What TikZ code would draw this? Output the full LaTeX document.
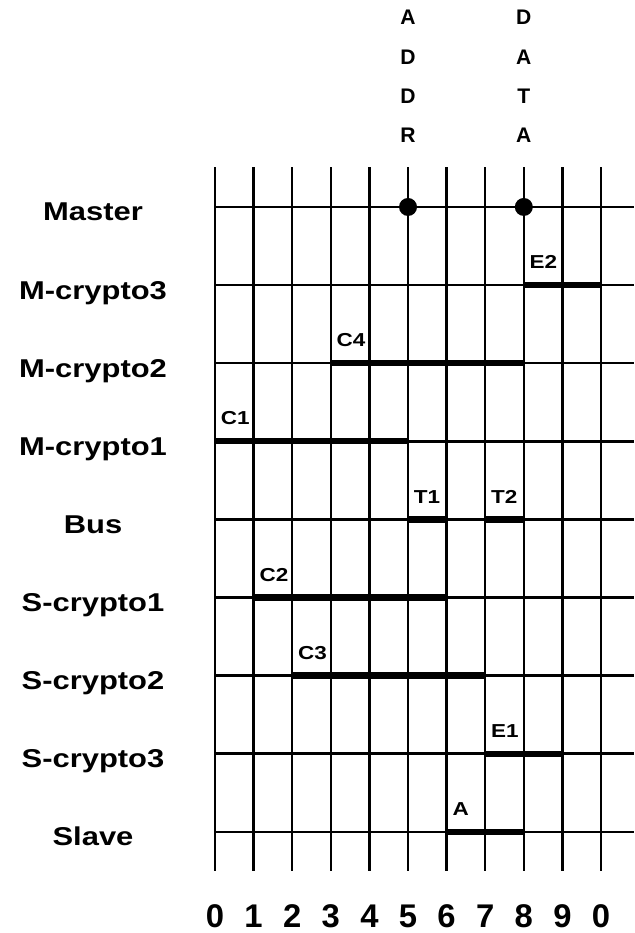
\documentclass[tikz,border=0pt]{standalone}
\usepackage{fontspec}
\setmainfont{Liberation Sans}
\newfontfamily\widesans[FakeStretch=1.2]{Liberation Sans}
\tikzset{
  % grid of time slots, busy intervals drawn heavier
  gridline/.style={line width=2.1pt, draw=black},
  busy/.style={line width=5.4pt, draw=black},
  rowname/.style={font=\widesans\bfseries\fontsize{22}{26}\selectfont, anchor=base, inner sep=0pt},
  barlabel/.style={font=\widesans\bfseries\fontsize{16}{19}\selectfont, anchor=base west, inner sep=0pt},
  ticklabel/.style={font=\bfseries\fontsize{28}{31}\selectfont, anchor=base, inner sep=0pt},
  strobe/.style={font=\bfseries\fontsize{18}{21}\selectfont, anchor=base, inner sep=0pt},
  event/.style={circle, fill=black, inner sep=0pt, minimum size=5.4mm}
}

\begin{document}
\begin{tikzpicture}[x=1.158cm,y=2.343cm]

\useasboundingbox (-5.57,2.65) rectangle (10.855,-9.296);

% time grid
\foreach \c in {0,...,10}
  \draw[gridline] (\c,0.51) -- (\c,-8.5);
\foreach \r in {0,...,8}
  \draw[gridline] (0,-\r) -- (10.85,-\r);

% signal names
\foreach \name [count=\r from 0] in {Master,M-crypto3,M-crypto2,M-crypto1,Bus,S-crypto1,S-crypto2,S-crypto3,Slave}
  \node[rowname, yshift=-0.42cm] (row\r) at (-3.16,-\r) {\name};

% time axis
\foreach \t [count=\c from 0] in {0,1,2,3,4,5,6,7,8,9,0}
  \node[ticklabel] (tick\c) at (\c,-9.23) {\t};

% strobes on the master line
\foreach \l [count=\i] in {A,D,D,R}
  \node[strobe] (addr\i) at (5,2.83-0.5*\i) {\l};
\foreach \l [count=\i] in {D,A,T,A}
  \node[strobe] (data\i) at (8,2.83-0.5*\i) {\l};
\node[event] (addrdot) at (5,0) {};
\node[event] (datadot) at (8,0) {};

% busy intervals: start, end, row, label
\foreach \s/\e/\r/\lab in {8/10/1/E2, 3/8/2/C4, 0/5/3/C1, 5/6/4/T1, 7/8/4/T2,
                           1/6/5/C2, 2/7/6/C3, 7/9/7/E1, 6/8/8/A}{
  \draw[busy] (\s,-\r) -- (\e,-\r);
  \node[barlabel, xshift=0.17cm, yshift=0.49cm] (lab\lab) at (\s,-\r) {\lab};
}

\end{tikzpicture}
\end{document}
